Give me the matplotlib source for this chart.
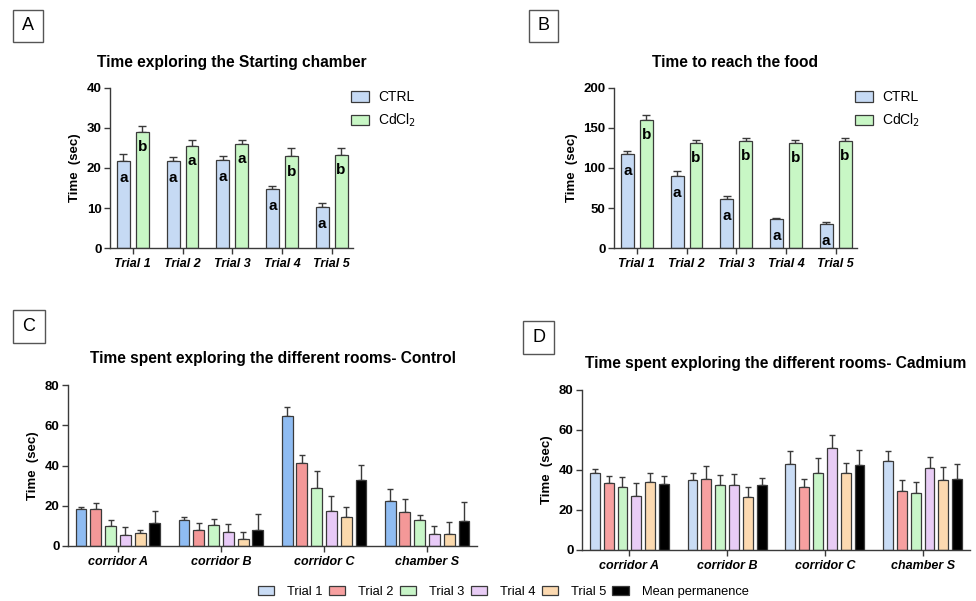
import numpy as np
import matplotlib
matplotlib.use("Agg")
import matplotlib.pyplot as plt
from matplotlib.patches import Rectangle, Patch

plt.rcParams['font.family'] = ['Liberation Sans', 'DejaVu Sans']

# ---------------- Data ----------------
trials = ["Trial 1", "Trial 2", "Trial 3", "Trial 4", "Trial 5"]

# Panel A: Time exploring the starting chamber
a_ctrl = [21.8, 21.7, 22.0, 14.7, 10.2]
a_ctrl_err = [1.7, 1.1, 1.0, 0.9, 1.0]
a_cd = [29.0, 25.5, 26.0, 22.9, 23.2]
a_cd_err = [1.6, 1.4, 1.1, 2.1, 1.8]
a_ctrl_letters = ["a", "a", "a", "a", "a"]
a_cd_letters = ["b", "a", "a", "b", "b"]

# Panel B: Time to reach the food
b_ctrl = [117, 90, 61, 36, 30]
b_ctrl_err = [4, 6, 4, 2, 2.5]
b_cd = [160, 131, 134, 131, 134]
b_cd_err = [6, 4, 3, 4, 4]
b_ctrl_letters = ["a", "a", "a", "a", "a"]
b_cd_letters = ["b", "b", "b", "b", "b"]

rooms = ["corridor A", "corridor B", "corridor C", "chamber S"]
series_names = ["Trial 1", "Trial 2", "Trial 3", "Trial 4", "Trial 5", "Mean permanence"]

# Panel C: Control (rows = series, cols = rooms)
c_vals = [
    [18.3, 12.8, 64.4, 22.2],
    [18.6, 7.8, 41.0, 16.8],
    [9.8, 10.5, 28.7, 12.8],
    [5.6, 6.8, 17.4, 6.1],
    [6.6, 3.5, 14.6, 5.8],
    [11.6, 8.1, 33.0, 12.6],
]
c_errs = [
    [1.2, 1.6, 4.6, 6.0],
    [3.0, 3.8, 4.3, 6.6],
    [3.0, 2.9, 8.6, 2.5],
    [3.8, 4.2, 7.3, 3.9],
    [1.3, 3.5, 4.7, 6.0],
    [5.8, 8.0, 7.3, 9.1],
]

# Panel D: Cadmium
d_vals = [
    [38.3, 35.0, 43.2, 44.5],
    [33.3, 35.7, 31.3, 29.3],
    [31.5, 32.7, 38.5, 28.7],
    [26.8, 32.3, 51.2, 41.0],
    [34.0, 26.7, 38.3, 35.2],
    [32.8, 32.5, 42.5, 35.7],
]
d_errs = [
    [2.3, 3.5, 6.5, 4.8],
    [3.5, 6.1, 4.0, 5.5],
    [4.8, 5.0, 7.3, 5.1],
    [6.8, 5.7, 6.1, 5.3],
    [4.5, 4.6, 5.4, 6.3],
    [4.2, 3.7, 7.3, 7.3],
]

# ---------------- Style ----------------
EDGE = "#3a3a3a"
ctrl_col = "#c6daf4"
cd_col = "#c8f7c5"
light_cols = ["#c9dcf5", "#f7a0a0", "#c8f5c8", "#e8ccf5", "#fcd9b0", "#000000"]
c_cols = ["#8fbcf2", "#f49898", "#c8f7c8", "#e8caf7", "#fbd9ac", "#000000"]

W, H = 976, 601
fig = plt.figure(figsize=(W / 100, H / 100), dpi=100)


def px_axes(l, t, r, b):
    return fig.add_axes([l / W, 1 - b / H, (r - l) / W, (b - t) / H])


def style_axes(ax):
    for s in ["top", "right"]:
        ax.spines[s].set_visible(False)
    for s in ["left", "bottom"]:
        ax.spines[s].set_color(EDGE)
        ax.spines[s].set_linewidth(1.0)
    ax.tick_params(axis="both", color=EDGE, width=1.0, length=4, direction="out")
    ax.tick_params(axis="y", labelsize=9.5, pad=2)
    ax.tick_params(axis="x", labelsize=9, pad=3)
    for lab in ax.get_yticklabels():
        lab.set_fontweight("bold")
    for lab in ax.get_xticklabels():
        lab.set_fontweight("bold")
        lab.set_fontstyle("italic")


def panel_box(letter, l, t, r, b):
    fig.patches.append(Rectangle((l / W, 1 - b / H), (r - l) / W, (b - t) / H,
                                 transform=fig.transFigure, fill=False,
                                 edgecolor="#555555", linewidth=1.0))
    fig.text((l + r) / 2 / W, 1 - (t + b) / 2 / H, letter, ha="center",
             va="center", fontsize=13)


def two_group(ax, ctrl, ctrl_err, cd, cd_err, ctrl_let, cd_let, ymax, step, title):
    x = np.arange(len(trials))
    off, bw = 0.19, 0.26
    ax.bar(x - off, ctrl, bw, color=ctrl_col, edgecolor=EDGE, linewidth=0.9,
           zorder=2, label="CTRL")
    ax.bar(x + off, cd, bw, color=cd_col, edgecolor=EDGE, linewidth=0.9,
           zorder=2, label="CdCl$_2$")
    ax.errorbar(x - off, ctrl, yerr=[np.zeros(len(ctrl)), ctrl_err], fmt="none",
                ecolor=EDGE, elinewidth=1.0, capsize=3, capthick=1.0, zorder=1)
    ax.errorbar(x + off, cd, yerr=[np.zeros(len(cd)), cd_err], fmt="none",
                ecolor=EDGE, elinewidth=1.0, capsize=3, capthick=1.0, zorder=1)
    for xi, v, l in zip(x - off, ctrl, ctrl_let):
        ax.text(xi, v - 0.105 * ymax, l, ha="center", va="center",
                fontsize=11, fontweight="bold", zorder=3)
    for xi, v, l in zip(x + off, cd, cd_let):
        ax.text(xi, v - 0.095 * ymax, l, ha="center", va="center",
                fontsize=11, fontweight="bold", zorder=3)
    ax.set_xlim(-0.46, len(trials) - 1 + 0.43)
    ax.set_ylim(0, ymax)
    ax.set_yticks(np.arange(0, ymax + 1, step))
    ax.set_xticks(x)
    ax.set_xticklabels(trials)
    ax.set_ylabel("Time  (sec)", fontsize=9.5, fontweight="bold", labelpad=4)
    ax.set_title(title, fontsize=11.2, fontweight="bold", pad=15)
    style_axes(ax)
    leg = ax.legend(loc="upper left", bbox_to_anchor=(0.969, 1.02), frameon=False,
                    fontsize=10, handlelength=1.3, handleheight=0.8,
                    labelspacing=0.55, handletextpad=0.65, borderaxespad=0.0)
    return leg


def multi_group(ax, vals, errs, cols, title, span, bw):
    x = np.arange(len(rooms))
    n = len(series_names)
    slot = span / n
    for i in range(n):
        xs = x - span / 2 + slot * (i + 0.5)
        ax.bar(xs, vals[i], bw, color=cols[i], edgecolor=EDGE, linewidth=0.9,
               zorder=2)
        ax.errorbar(xs, vals[i], yerr=[np.zeros(len(rooms)), errs[i]], fmt="none",
                    ecolor=EDGE, elinewidth=1.0, capsize=2.5, capthick=1.0, zorder=1)
    ax.set_xlim(-0.485, len(rooms) - 1 + 0.485)
    ax.set_ylim(0, 80)
    ax.set_yticks(np.arange(0, 81, 20))
    ax.set_xticks(x)
    ax.set_xticklabels(rooms)
    ax.set_ylabel("Time  (sec)", fontsize=9.5, fontweight="bold", labelpad=4)
    ax.set_title(title, fontsize=11.2, fontweight="bold", pad=16)
    style_axes(ax)


# Panel A
axA = px_axes(110, 88, 353, 248)
two_group(axA, a_ctrl, a_ctrl_err, a_cd, a_cd_err, a_ctrl_letters, a_cd_letters,
          40, 10, "Time exploring the Starting chamber")
panel_box("A", 13, 10, 43, 42)

# Panel B
axB = px_axes(614, 88, 857, 248)
two_group(axB, b_ctrl, b_ctrl_err, b_cd, b_cd_err, b_ctrl_letters, b_cd_letters,
          200, 50, "Time to reach the food")
panel_box("B", 529, 10, 558, 42)

# Panel C
axC = px_axes(68, 385, 477, 546)
multi_group(axC, c_vals, c_errs, c_cols,
            "Time spent exploring the different rooms- Control", 0.86, 0.105)
panel_box("C", 13, 310, 45, 343)

# Panel D
axD = px_axes(582, 390, 970, 550)
multi_group(axD, d_vals, d_errs, light_cols,
            "Time spent exploring the different rooms- Cadmium", 0.85, 0.10)
panel_box("D", 523, 321, 554, 354)

# Bottom legend
handles = [Patch(facecolor=c, edgecolor=EDGE, linewidth=0.9) for c in light_cols]
fig.legend(handles, series_names, loc="center", bbox_to_anchor=(503 / W, 1 - 592 / H),
           ncol=6, frameon=False, fontsize=9.3, handlelength=1.25, handleheight=0.7,
           handletextpad=1.0, columnspacing=0.5)

fig.savefig("out.png", dpi=100)
